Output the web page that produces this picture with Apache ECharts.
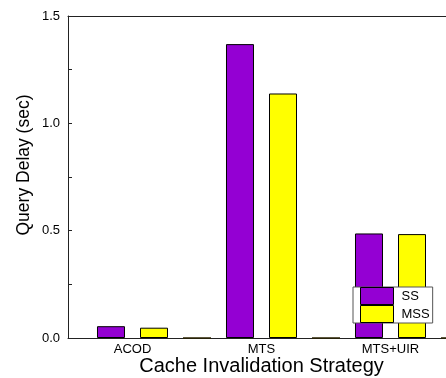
<!DOCTYPE html>
<html>
<head>
<meta charset="utf-8">
<script src="https://cdn.jsdelivr.net/npm/echarts@6/dist/echarts.min.js"></script>
<style>
  html, body { margin: 0; padding: 0; background: #fff; }
  #chart { width: 446px; height: 378px; }
</style>
</head>
<body>
<div id="chart"></div>
<script>
// Query delay per cache invalidation strategy
const strategies = ['ACOD', 'MTS', 'MTS+UIR'];
const ssDelay = [0.055, 1.369, 0.487];
const mssDelay = [0.048, 1.139, 0.484];
// empty slots between strategy groups (zero-valued)
const gapSlots = ['', '', '', ''];
const gapValues = ['-', 0, 0, 0];
const yTicks = [0, 0.5, 1.0, 1.5];

const FONT = '"Liberation Sans", Arial, Helvetica, sans-serif';
const chart = echarts.init(document.getElementById('chart'), null, { renderer: 'canvas' });

chart.setOption({
  animation: false,
  backgroundColor: '#fff',
  grid: { left: 68, top: 16, bottom: 40, right: -9, containLabel: false, outerBoundsMode: 'none' },
  legend: {
    orient: 'vertical',
    left: 353, top: 287,
    data: ['SS', 'MSS'],
    itemWidth: 33, itemHeight: 17, itemGap: 0,
    padding: [0, 3, 0, 7],
    backgroundColor: '#fff',
    borderColor: '#555', borderWidth: 1, borderRadius: 0,
    icon: 'rect',
    itemStyle: { borderColor: '#000', borderWidth: 1 },
    textStyle: { fontFamily: FONT, fontSize: 13, color: '#000', padding: [0, 0, 0, 3] }
  },
  xAxis: [
    {
      type: 'category',
      data: strategies,
      boundaryGap: true,
      name: 'Cache Invalidation Strategy',
      nameLocation: 'middle',
      nameGap: 18,
      nameMoveOverlap: false,
      nameTextStyle: { fontFamily: FONT, fontSize: 20, color: '#000' },
      axisLine: { lineStyle: { color: '#222', width: 1 } },
      axisTick: { show: false },
      axisLabel: { fontFamily: FONT, fontSize: 13, color: '#000', margin: 5 },
      splitLine: { show: false }
    },
    {
      type: 'category',
      data: gapSlots,
      boundaryGap: false,
      position: 'top',
      axisLine: { show: true, onZero: false, lineStyle: { color: '#222', width: 1 } },
      axisTick: { show: false },
      axisLabel: { show: false },
      splitLine: { show: false }
    }
  ],
  yAxis: {
    type: 'value',
    min: yTicks[0],
    max: yTicks[yTicks.length - 1],
    interval: 0.5,
    name: 'Query Delay (sec)',
    nameLocation: 'middle',
    nameRotate: 90,
    nameGap: 35,
    nameMoveOverlap: false,
    nameTextStyle: { fontFamily: FONT, fontSize: 17.5, color: '#000', padding: [0, 0, 0, 24] },
    axisLine: { show: true, lineStyle: { color: '#222', width: 1 } },
    axisTick: { show: true, inside: true, length: 4, lineStyle: { color: '#222' } },
    minorTick: { show: true, splitNumber: 2, length: 4, lineStyle: { color: '#222' } },
    axisLabel: {
      fontFamily: FONT, fontSize: 13, color: '#000', margin: 8,
      formatter: v => v.toFixed(1)
    },
    splitLine: { show: false }
  },
  series: [
    {
      name: 'SS', type: 'bar', xAxisIndex: 0,
      data: ssDelay,
      barWidth: 28, barGap: '53.6%',
      itemStyle: { color: '#9400d3', borderColor: '#000', borderWidth: 1 }
    },
    {
      name: 'MSS', type: 'bar', xAxisIndex: 0,
      data: mssDelay,
      barWidth: 28, barGap: '53.6%',
      itemStyle: { color: '#ffff00', borderColor: '#000', borderWidth: 1 }
    },
    {
      name: 'gap', type: 'bar', xAxisIndex: 1,
      data: gapValues,
      barWidth: 28,
      itemStyle: { color: '#2a2200', borderColor: '#2a2200', borderWidth: 1.5 }
    }
  ]
});
</script>
</body>
</html>
